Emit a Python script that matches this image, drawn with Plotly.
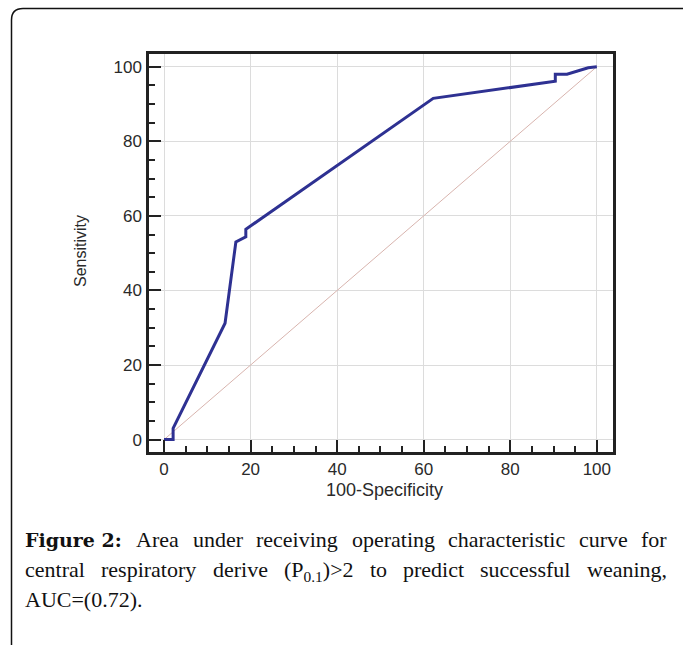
import plotly.graph_objects as go

# ---- data ----
fpr = [0, 2.1, 2.1, 14.1, 16.6, 18.9, 18.9, 62.2, 90.4, 90.4, 93.1, 98.0, 100]
tpr = [0, 0, 3.0, 31.2, 53.0, 54.4, 56.4, 91.5, 96.1, 98.0, 98.0, 99.7, 100]
ref_x = [0, 100]
ref_y = [0, 100]
tick_vals = [0, 20, 40, 60, 80, 100]
tick_text = ["0", "20", "40", "60", "80", "100"]
x_title = "100-Specificity"
y_title = "Sensitivity"

W, H = 683, 645

def px(x):
    return x / W

def py(y):
    return 1 - y / H

fig = go.Figure()
fig.add_trace(go.Scatter(x=ref_x, y=ref_y, mode="lines",
                         line=dict(color="#d8b4ae", width=1), hoverinfo="skip"))
fig.add_trace(go.Scatter(x=fpr, y=tpr, mode="lines",
                         line=dict(color="#2E3192", width=3)))

axis_common = dict(
    tickvals=tick_vals, ticktext=tick_text,
    ticks="inside", ticklen=12, tickwidth=2, tickcolor="#222",
    showline=True, linewidth=3, linecolor="#222", mirror=True,
    showgrid=True, gridcolor="#dcdcdc", gridwidth=1, zeroline=False,
    tickfont=dict(family="Liberation Sans, Arial", size=17, color="#2a2a2a"),
    minor=dict(dtick=5, ticks="inside", ticklen=6, tickwidth=2, tickcolor="#222", showgrid=False),
)

fig.update_layout(
    width=W, height=H, autosize=False,
    margin=dict(l=0, r=0, t=0, b=0),
    paper_bgcolor="white", plot_bgcolor="white",
    showlegend=False,
    xaxis=dict(range=[-3.4, 103.8], domain=[px(149.3), px(613.3)],
               ticklabelstandoff=-1, **axis_common),
    yaxis=dict(range=[-3.4, 103.4], domain=[py(452.3), py(54)],
               ticklabelstandoff=1, **axis_common),
)

# axis titles
fig.add_annotation(x=px(384), y=py(490), xref="paper", yref="paper", text=x_title,
                   showarrow=False, xanchor="center", yanchor="middle",
                   font=dict(family="Liberation Sans, Arial", size=18, color="#2a2a2a"))
fig.add_annotation(x=px(80), y=py(251), xref="paper", yref="paper", text=y_title,
                   textangle=-90, showarrow=False, xanchor="center", yanchor="middle",
                   font=dict(family="Liberation Sans, Arial", size=16, color="#2a2a2a"))

# outer frame (top and left edges with rounded corner)
fig.add_shape(type="path", xref="paper", yref="paper",
              path=f"M {px(11.5)},{py(645)} L {px(11.5)},{py(20)} Q {px(11.5)},{py(8.5)} {px(23)},{py(8.5)} L {px(683)},{py(8.5)}",
              line=dict(color="#111", width=1.5))

# ---- caption, justified between two margins ----
CAP_SIZE = 22
cap_font = dict(family="Liberation Serif, Times New Roman, serif", size=CAP_SIZE, color="#111")
bold_font = dict(family="DejaVu Serif, serif", size=19, color="#111")
BOLD_W = 98.0  # rendered width of the bold label
# Times / Liberation Serif advance widths (per 1000 em)
TW = {" ": 250, "(": 333, ")": 333, ",": 250, ".": 250, ":": 278, "=": 564, ">": 564,
      "A": 722, "C": 667, "P": 556, "U": 722,
      "a": 444, "c": 444, "d": 500, "e": 444, "f": 333, "g": 500, "h": 500, "i": 278,
      "l": 278, "n": 500, "o": 500, "p": 500, "r": 333, "s": 389, "t": 278, "u": 500,
      "v": 500, "w": 722, "y": 500}
for dch in "0123456789":
    TW[dch] = 500

def word_width(plain, sub=""):
    w = sum(TW.get(ch, 500) for ch in plain) * CAP_SIZE / 1000
    w += sum(TW.get(ch, 500) for ch in sub) * CAP_SIZE * 0.7 / 1000
    return w

LEFT, RIGHT = 23, 665
caption_lines = [
    [("<b>Figure 2:</b>", None, None), ("Area", "Area", ""), ("under", "under", ""),
     ("receiving", "receiving", ""), ("operating", "operating", ""),
     ("characteristic", "characteristic", ""), ("curve", "curve", ""), ("for", "for", "")],
    [("central", "central", ""), ("respiratory", "respiratory", ""), ("derive", "derive", ""),
     ("(P<sub>0.1</sub>)>2", "(P)>2", "0.1"), ("to", "to", ""), ("predict", "predict", ""),
     ("successful", "successful", ""), ("weaning,", "weaning,", "")],
]
line_tops = [525, 555]
for words, ytop in zip(caption_lines, line_tops):
    widths = [BOLD_W if plain is None else word_width(plain, sub) for _, plain, sub in words]
    gap = (RIGHT - LEFT - sum(widths)) / (len(words) - 1)
    xcur = LEFT
    for (txt, plain, sub), w in zip(words, widths):
        f = bold_font if plain is None else cap_font
        yt = ytop + 2 if plain is None else ytop
        fig.add_annotation(x=px(xcur), y=py(yt), xref="paper", yref="paper", text=txt,
                           showarrow=False, xanchor="left", yanchor="top", font=f)
        xcur += w + gap

fig.add_annotation(x=px(LEFT), y=py(585), xref="paper", yref="paper", text="AUC=(0.72).",
                   showarrow=False, xanchor="left", yanchor="top", font=cap_font)

fig.write_html("out.html")
